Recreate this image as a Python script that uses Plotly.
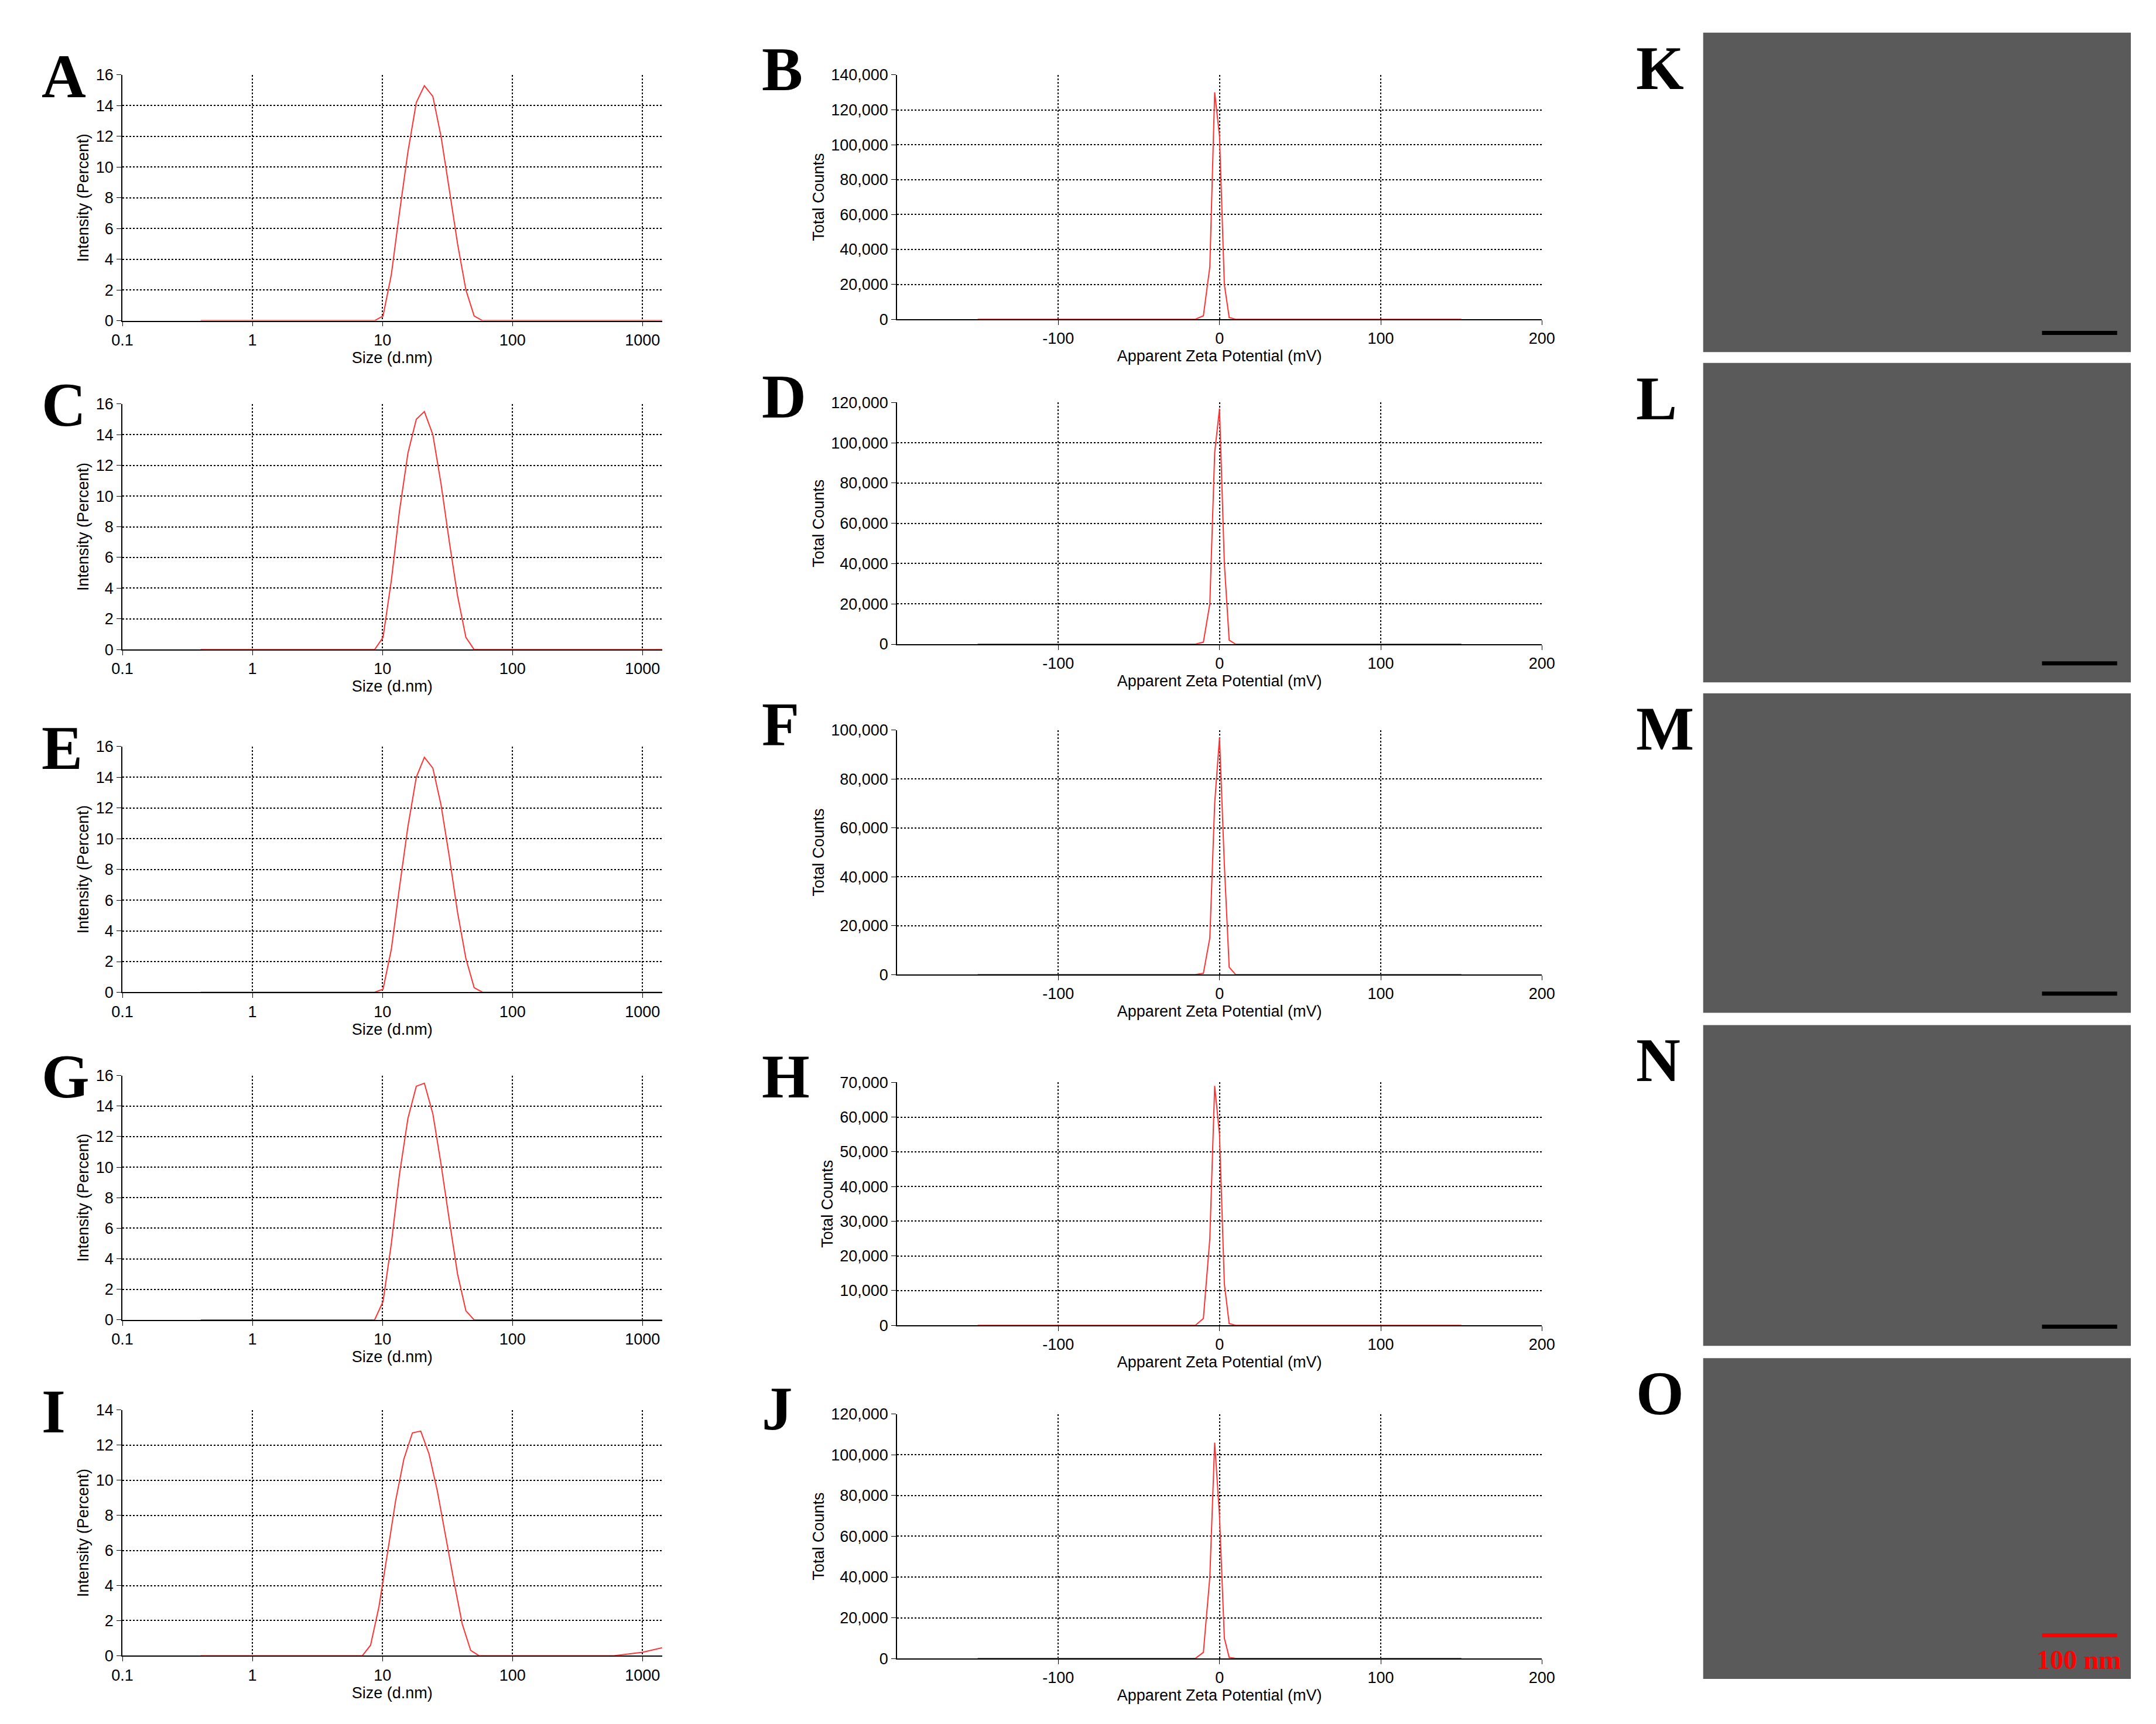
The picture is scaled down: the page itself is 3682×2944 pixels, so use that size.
import plotly.graph_objects as go

# ---- data ----
size_x = [0.4, 8.7, 10.1, 11.7, 13.5, 15.7, 18.2, 21.0, 24.4, 28.2, 32.7, 37.8, 43.8, 50.7, 58.8, 1500]
size_A = [0, 0, 0.3, 3.0, 7.0, 11.0, 14.2, 15.3, 14.6, 12.0, 8.5, 5.0, 2.0, 0.3, 0, 0]
size_C = [0, 0, 0.8, 4.5, 9.0, 12.8, 15.0, 15.5, 14.0, 10.8, 7.0, 3.5, 0.8, 0, 0, 0]
size_E = [0, 0, 0.2, 2.8, 6.8, 10.8, 14.0, 15.3, 14.6, 12.2, 8.8, 5.2, 2.2, 0.3, 0, 0]
size_G = [0, 0, 1.2, 5.0, 9.5, 13.2, 15.3, 15.5, 13.5, 10.2, 6.5, 3.0, 0.6, 0, 0, 0]
size_I_x = [0.4, 7.0, 8.1, 9.4, 10.9, 12.6, 14.6, 17.0, 19.7, 22.8, 26.4, 30.6, 35.5, 41.1, 47.7, 55.3, 600, 1000, 1500]
size_I = [0, 0, 0.6, 2.8, 5.8, 8.8, 11.2, 12.7, 12.8, 11.5, 9.4, 6.8, 4.2, 1.8, 0.3, 0, 0, 0.2, 0.5]

zeta_x = [-150, -15, -10, -6, -3, 0, 3, 6, 10, 150]
zeta_B = [0, 0, 2000, 30000, 130000, 105000, 20000, 1000, 0, 0]
zeta_D = [0, 0, 1000, 20000, 95000, 117000, 40000, 2000, 0, 0]
zeta_F = [0, 0, 500, 15000, 70000, 97000, 45000, 3000, 0, 0]
zeta_H = [0, 0, 2000, 25000, 69000, 55000, 12000, 500, 0, 0]
zeta_J = [0, 0, 3000, 40000, 106000, 70000, 10000, 500, 0, 0]

size_ranges = [16, 16, 16, 16, 14]
zeta_ranges = [140000, 120000, 100000, 70000, 120000]
zeta_dticks = [20000, 20000, 20000, 10000, 20000]
left_letters = ["A", "C", "E", "G", "I"]
mid_letters = ["B", "D", "F", "H", "J"]
img_letters = ["K", "L", "M", "N", "O"]

H = 1250.0
W = 1560.0
left_rows = [(45, 225), (286, 466), (537, 717), (778, 957), (1023, 1203)]
mid_rows = [(45, 224), (285, 462), (525, 704), (783, 961), (1026, 1205)]
img_rows = [(14, 248), (256, 490), (498, 732), (741, 976), (985, 1220)]

def yd(r):
    return [1 - r[1] / H, 1 - r[0] / H]

fig = go.Figure()
layout = {}
ann = []
shapes = []
FONT = "Liberation Sans"
tickf = dict(family=FONT, size=27, color="black")
titf = dict(family=FONT, size=27, color="black")

size_sets = [(size_x, size_A), (size_x, size_C), (size_x, size_E), (size_x, size_G), (size_I_x, size_I)]
zeta_sets = [zeta_B, zeta_D, zeta_F, zeta_H, zeta_J]

def axstyle(**kw):
    d = dict(showgrid=True, gridcolor="black", griddash="dot", gridwidth=1.5,
             showline=True, linecolor="black", linewidth=1.5, ticks="outside",
             ticklen=8, tickcolor="black", tickfont=tickf, zeroline=False)
    d.update(kw)
    return d

n = 1
for i in range(5):
    xs, ys = size_sets[i]
    fig.add_trace(go.Scatter(x=xs, y=ys, mode="lines", line=dict(color="#ff3333", width=2),
                             xaxis=f"x{n}", yaxis=f"y{n}", showlegend=False))
    layout[f"xaxis{n}"] = axstyle(type="log", range=[-1, 3.15], domain=[78 / W, 473 / W],
                                  anchor=f"y{n}", tickvals=[0.1, 1, 10, 100, 1000],
                                  ticktext=["0.1", "1", "10", "100", "1000"],
                                  title=dict(text="Size (d.nm)", font=titf, standoff=6))
    layout[f"yaxis{n}"] = axstyle(range=[0, size_ranges[i]], dtick=2, domain=yd(left_rows[i]),
                                  anchor=f"x{n}",
                                  title=dict(text="Intensity (Percent)", font=titf, standoff=4))
    ann.append(dict(text=f"<b>{left_letters[i]}</b>", x=18 / W, y=1 - (left_rows[i][0] - 25) / H,
                    xref="paper", yref="paper", xanchor="left", yanchor="top", showarrow=False,
                    font=dict(family="Liberation Serif", size=105, color="black")))
    n += 1
    fig.add_trace(go.Scatter(x=zeta_x, y=zeta_sets[i], mode="lines", line=dict(color="#ff3333", width=2),
                             xaxis=f"x{n}", yaxis=f"y{n}", showlegend=False))
    layout[f"xaxis{n}"] = axstyle(range=[-200, 200], tickvals=[-100, 0, 100, 200],
                                  ticktext=["-100", "0", "100", "200"],
                                  domain=[645 / W, 1117 / W], anchor=f"y{n}",
                                  title=dict(text="Apparent Zeta Potential (mV)", font=titf, standoff=6))
    layout[f"yaxis{n}"] = axstyle(range=[0, zeta_ranges[i]], dtick=zeta_dticks[i], tickformat=",",
                                  domain=yd(mid_rows[i]), anchor=f"x{n}",
                                  title=dict(text="Total Counts", font=titf, standoff=4))
    ann.append(dict(text=f"<b>{mid_letters[i]}</b>", x=545 / W, y=1 - (mid_rows[i][0] - 30) / H,
                    xref="paper", yref="paper", xanchor="left", yanchor="top", showarrow=False,
                    font=dict(family="Liberation Serif", size=105, color="black")))
    n += 1
    r = img_rows[i]
    shapes.append(dict(type="rect", xref="paper", yref="paper", x0=1235 / W, x1=1548 / W,
                       y0=1 - r[1] / H, y1=1 - r[0] / H, fillcolor="#5a5a5a", line=dict(width=0)))
    bar_col = "red" if i == 4 else "black"
    by = r[1] - 32 if i == 4 else r[1] - 14
    shapes.append(dict(type="line", xref="paper", yref="paper", x0=1483 / W, x1=1538 / W,
                       y0=1 - by / H, y1=1 - by / H, line=dict(color=bar_col, width=7)))
    ann.append(dict(text=f"<b>{img_letters[i]}</b>", x=1185 / W, y=1 - (r[0]) / H,
                    xref="paper", yref="paper", xanchor="left", yanchor="top", showarrow=False,
                    font=dict(family="Liberation Serif", size=105, color="black")))
ann.append(dict(text="<b>100 nm</b>", x=1510 / W, y=1 - 1218 / H, xref="paper", yref="paper",
                xanchor="center", yanchor="bottom", showarrow=False,
                font=dict(family="Liberation Serif", size=46, color="red")))

fig.update_layout(**layout)
fig.update_layout(width=3682, height=2944, margin=dict(l=0, r=0, t=0, b=0),
                  paper_bgcolor="white", plot_bgcolor="white", annotations=ann, shapes=shapes)
fig.write_html("out.html")
